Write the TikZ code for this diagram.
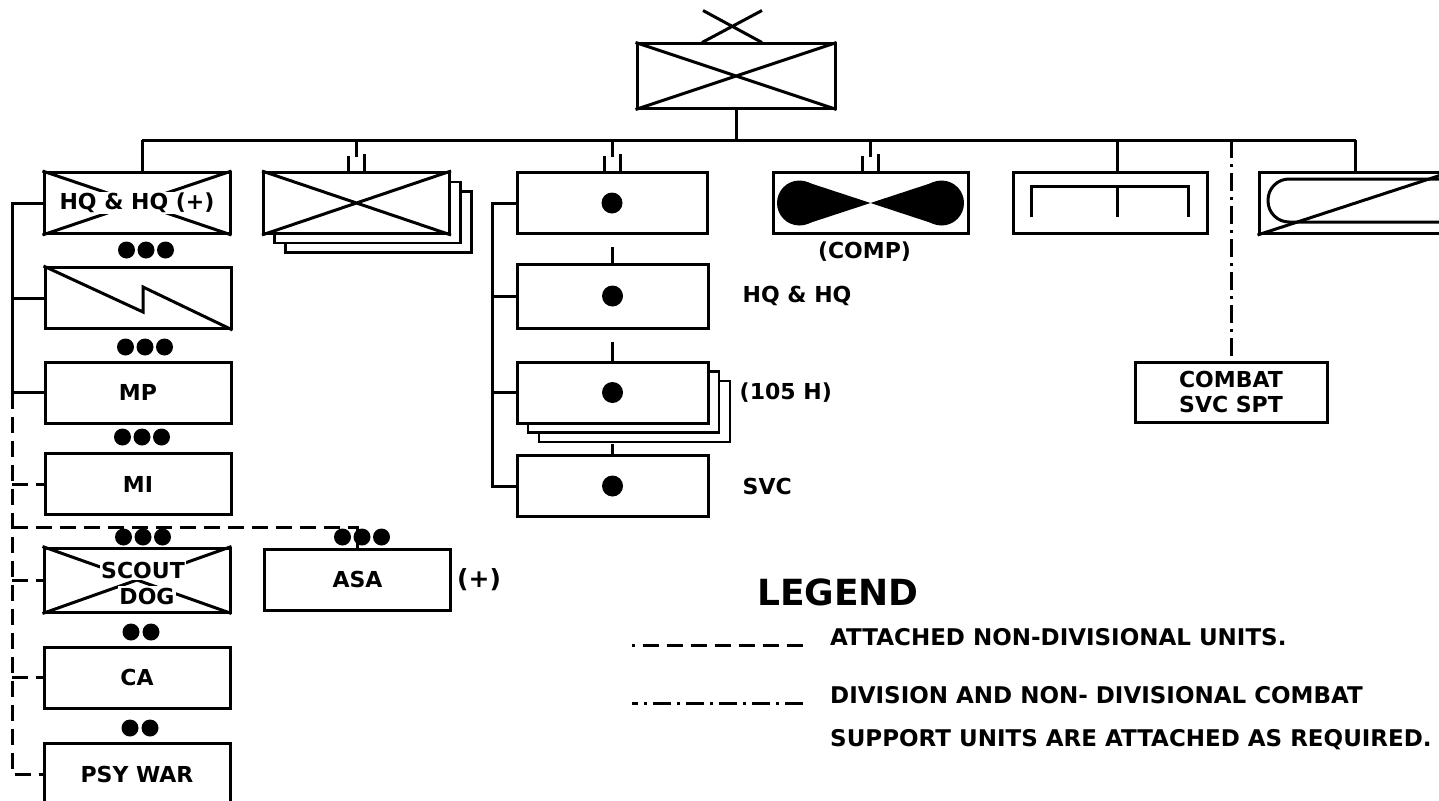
\documentclass[tikz,border=0pt]{standalone}
\usepackage{fontspec}
\setmainfont{DejaVu Sans}
\usetikzlibrary{positioning,calc,shadows}
\tikzset{
  every node/.style={font=\fontsize{22}{25}\selectfont\bfseries,text=black},
  unit/.style={draw,line width=3pt,fill=white,minimum width=186pt,minimum height=61pt,inner sep=0pt,align=center},
  stacked/.style={unit,
    general shadow={shadow xshift=22pt,shadow yshift=-19pt,fill=white,draw,line width=2.6pt},
    general shadow={shadow xshift=11pt,shadow yshift=-9.5pt,fill=white,draw,line width=2.6pt}},
  glyph/.style={line width=3pt},
  link/.style={line width=3pt},
  attached/.style={line width=3pt,dash pattern=on 16pt off 8pt},
  support/.style={line width=3pt,dash pattern=on 18pt off 6pt on 3pt off 6pt},
  boxtext/.style={fill=white,inner sep=1.5pt},
  sidetext/.style={inner sep=0pt},
  legendtext/.style={font=\fontsize{23}{27}\selectfont\bfseries,inner sep=0pt,anchor=base west}
}
\begin{document}
\begin{tikzpicture}[x=1pt,y=-1pt]
  \useasboundingbox (0,0) rectangle (1439,800);
  \clip (0,0) rectangle (1439,800);
  \fill[white] (0,0) rectangle (1439,800);

  \coordinate (busL) at (142,140);
  \coordinate (lrail) at (12,0);
  \coordinate (arail) at (492,0);
  \coordinate (dsh) at (0,527);

  \node[unit,minimum width=198pt,minimum height=64pt] (div) at (736,76) {};
  \node[unit] (hq) at (137,203) {};
  \node[stacked] (inf) at (356.5,203) {};
  \node[unit,minimum width=190pt] (arty) at (612,203) {};
  \node[unit,minimum width=195pt] (armor) at (870.5,203) {};
  \node[unit,minimum width=194pt] (engr) at (1110,203) {};
  \node[unit,minimum width=193pt] (avn) at (1355.5,203) {};
  \node[unit] (sig) at (138,298) {};
  \node[unit] (mp) at (138,392.5) {MP};
  \node[unit] (mi) at (138,484) {MI};
  \node[unit,minimum height=64pt] (scout) at (137,580) {};
  \node[unit] (asa) at (357.5,579.5) {ASA};
  \node[unit] (ca) at (137,677.5) {CA};
  \node[unit] (psy) at (137,774) {PSY WAR};
  \node[unit,minimum width=191pt,minimum height=64pt] (hqa) at (612.5,296) {};
  \node[stacked,minimum width=191pt] (how) at (612.5,392.5) {};
  \node[unit,minimum width=191pt] (svc) at (612.5,486) {};
  \node[unit,minimum width=192pt,minimum height=60pt] (css) at (1231,392) {COMBAT\\SVC SPT};

  \node[sidetext,right=33pt of hqa] (hqalbl) {HQ \& HQ};
  \node[sidetext,right=30pt of how] (howlbl) {(105 H)};
  \node[sidetext,right=33pt of svc] (svclbl) {SVC};
  \node[sidetext,right=5pt of asa,font=\fontsize{25}{28}\selectfont\bfseries] (asalbl) {(+)};
  \node[sidetext,below=7pt of armor,xshift=-6pt] (armorlbl) {(COMP)};

  \draw[glyph] (div.north west) -- (div.south east) (div.south west) -- (div.north east);
  \draw[glyph] ($(div.north)+(-33,-32)$) -- ($(div.north)+(26,0)$) ($(div.north)+(26,-32)$) -- ($(div.north)+(-34,0)$);
  \foreach \n in {hq,inf,scout}
    \draw[glyph] (\n.north west) -- (\n.south east) (\n.south west) -- (\n.north east);
  \node[boxtext] (hqtext) at (hq) {HQ \& HQ (+)};
  \node[boxtext] (scouttext) at ($(scout)+(6,-10)$) {SCOUT};
  \node[boxtext] (dogtext) at ($(scout)+(10,16)$) {DOG};

  \draw[glyph] (sig.north west) -- ($(sig.center)+(5,14)$) -- ($(sig.center)+(5,-11)$) -- (sig.south east);
  \foreach \s in {-1,1} {
    \fill (armor.center) -- ++(\s*64,-21) -- ++(0,42) -- cycle;
    \fill ($(armor.center)+(\s*71,0)$) circle (22.5pt);
  }
  \draw[glyph] ($(engr.center)+(-79,14)$) |- ($(engr.center)+(78,-17)$) -- ($(engr.center)+(78,14)$);
  \draw[glyph] ($(engr.center)+(7,-17)$) -- ($(engr.center)+(7,14)$);
  \draw[glyph,rounded corners=21pt] ($(avn.center)+(-87.5,-24)$) rectangle ($(avn.center)+(110,19)$);
  \draw[glyph] (avn.south west) -- (avn.north east);
  \foreach \n in {arty,hqa,how,svc}
    \fill (\n) circle (10.5pt);

  \draw[link] (div.south) -- (div.south |- busL);
  \draw[link] (busL) -- (avn.north |- busL);
  \draw[link] (busL) -- (busL |- hq.north);
  \foreach \n in {inf,arty,armor} {
    \draw[link] (\n.north |- busL) -- ++(0,17);
    \draw[link] ([xshift=-8pt]\n.north) -- ++(0,-15);
    \draw[link] ([xshift=8pt]\n.north) -- ++(0,-17);
  }
  \draw[link] ([xshift=7pt]engr.north) -- ([xshift=7pt]engr.north |- busL);
  \draw[link] (avn.north) -- (avn.north |- busL);
  \draw[support] (css.north |- busL) -- (css.north);

  \draw[link] (arty.west) -- (arty.west -| arail) -- (svc.west -| arail) -- (svc.west);
  \foreach \n in {hqa,how}
    \draw[link] (\n.west -| arail) -- (\n.west);
  \draw[link] (hqa.north) -- ++(0,-16);
  \draw[link] (how.north) -- ++(0,-19);
  \draw[link] (svc.north) -- ++(0,-10);

  \draw[link] (hq.west) -- (hq.west -| lrail) -- (mp.west -| lrail) -- (mp.west);
  \draw[link] (sig.west) -- (sig.west -| lrail);
  \draw[attached] (mp.west -| lrail) -- (psy.west -| lrail) -- (psy.west);
  \foreach \n in {mi,scout,ca}
    \draw[attached] (\n.west -| lrail) -- (\n.west);
  \draw[attached] (lrail |- dsh) -- (asa.north |- dsh) -- (asa.north);

  \foreach \dx in {-19.5,0,19.5} {
    \fill (146+\dx,250) circle (8.5pt);
    \fill (145+\dx,347) circle (8.5pt);
    \fill (142+\dx,437) circle (8.5pt);
    \fill (143+\dx,537) circle (8.5pt);
    \fill (362+\dx,537) circle (8.5pt);
  }
  \foreach \dx in {-10,10} {
    \fill (141+\dx,632) circle (8.5pt);
    \fill (140+\dx,728) circle (8.5pt);
  }

  \node[font=\fontsize{36}{40}\selectfont\bfseries] (legtitle) at (838,592) {LEGEND};
  \node[legendtext] (leg1) at (830,645) {ATTACHED NON-DIVISIONAL UNITS.};
  \node[legendtext] (leg2) at (830,703) {DIVISION AND NON- DIVISIONAL COMBAT};
  \node[legendtext] (leg3) at (830,746) {SUPPORT UNITS ARE ATTACHED AS REQUIRED.};
  \draw[attached] ([xshift=-27pt]leg1.base west) -- ++(-171,0);
  \draw[support] ([xshift=-27pt]leg2.base west) -- ++(-171,0);
\end{tikzpicture}
\end{document}
